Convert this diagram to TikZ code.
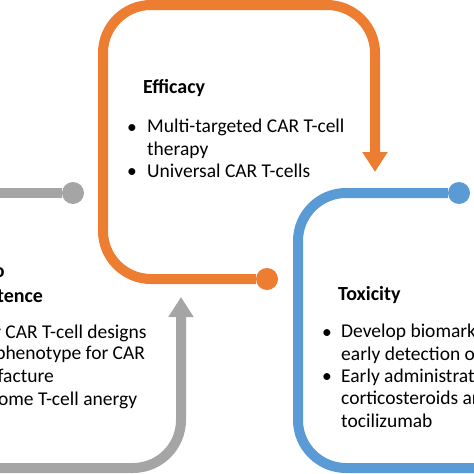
\documentclass[tikz,border=0pt]{standalone}
\usepackage{fontspec}
\setmainfont{Carlito}
\usetikzlibrary{arrows.meta}
\definecolor{colO}{RGB}{237,125,49}
\definecolor{colB}{RGB}{91,155,213}
\definecolor{colG}{RGB}{165,165,165}
\tikzstyle{dot}=[circle, inner sep=0pt, minimum size=22pt]
\tikzstyle{loop}=[line width=10pt, rounded corners=48pt]
\tikzstyle{tip}=[-{Triangle[width=24pt,length=20pt]}]
\tikzstyle{txt}=[anchor=base west, inner sep=0pt, align=left, font=\fontsize{19.5}{22.4}\selectfont]
\tikzstyle{head}=[txt, font=\fontsize{20}{25}\selectfont\bfseries]

\begin{document}
\begin{tikzpicture}[x=1pt,y=-1pt]
		\useasboundingbox (0,0) rectangle (474,474);
		\clip (0,0) rectangle (474,474);
		% connectors
		\node[dot,fill=colO] (odot) at (267,279) {};
		\node[dot,fill=colB] (bdot) at (459,193) {};
		\node[dot,fill=colG] (gdot) at (73,193) {};
		\coordinate (otip) at (375,172);
		\coordinate (gtip) at (181,297);
		\coordinate (gout) at (-30,193);
		\coordinate (gin) at (-30,468);
		\coordinate (bout) at (510,468);
		\draw[loop,colO,tip] (odot) -- (103,279) -- (103,5) -- (375,5) -- (otip);
		\draw[loop,colB] (bdot) -- (298,193) -- (298,468) -- (bout);
		\draw[loop,colG] (gdot) -- (gout);
		\draw[loop,colG,tip] (gin) -- (181,468) -- (gtip);
		% efficacy (base = last line)
		\node[head] (effT) at (143,93) {Efficacy};
		\node[txt] (effB1) at (127,133) {\textbullet};
		\node[txt] (eff1) at (147,155) {Multi-targeted CAR T-cell\\therapy};
		\node[txt] (effB2) at (127,177) {\textbullet};
		\node[txt] (eff2) at (147,177) {Universal CAR T-cells};
		% toxicity
		\node[head] (toxT) at (338,300) {Toxicity};
		\node[txt] (toxB1) at (322,338) {\textbullet};
		\node[txt] (tox1) at (341,360) {Develop biomarkers for\\early detection of CRS};
		\node[txt] (toxB2) at (322,382) {\textbullet};
		\node[txt] (tox2) at (341,427) {Early administration of\\corticosteroids and\\tocilizumab};
		% persistence
		\node[head] (perT) at (-51,302) {Due to\\Persistence};
		\node[txt] (perB1) at (-67,338) {\textbullet};
		\node[txt] (per1) at (-48,338) {Better CAR T-cell designs};
		\node[txt] (perB2) at (-67,360) {\textbullet};
		\node[txt] (per2) at (-48,382) {Ideal phenotype for CAR\\manufacture};
		\node[txt] (perB3) at (-67,405) {\textbullet};
		\node[txt] (per3) at (-48,405) {Overcome T-cell anergy};
	\end{tikzpicture}
\end{document}
